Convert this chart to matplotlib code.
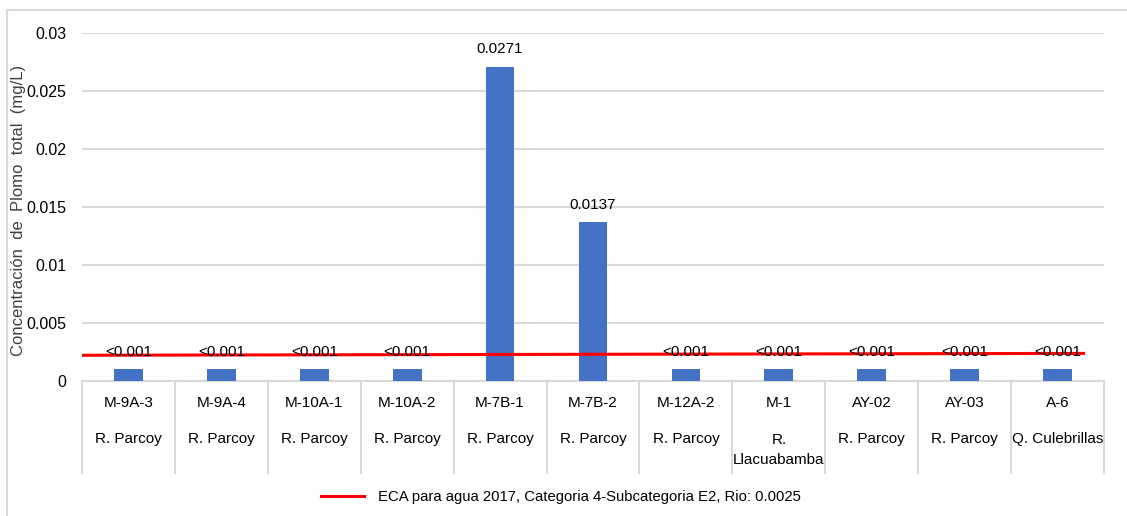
import matplotlib
matplotlib.use("Agg")
from matplotlib import pyplot as plt
from matplotlib.patches import Rectangle
import matplotlib.transforms as mtransforms

# data
stations = ["M-9A-3", "M-9A-4", "M-10A-1", "M-10A-2", "M-7B-1", "M-7B-2",
            "M-12A-2", "M-1", "AY-02", "AY-03", "A-6"]
rivers = ["R. Parcoy", "R. Parcoy", "R. Parcoy", "R. Parcoy", "R. Parcoy", "R. Parcoy",
          "R. Parcoy", "R.\nLlacuabamba", "R. Parcoy", "R. Parcoy", "Q. Culebrillas"]
lead = [0.001, 0.001, 0.001, 0.001, 0.0271, 0.0137, 0.001, 0.001, 0.001, 0.001, 0.001]
bar_labels = ["<0.001", "<0.001", "<0.001", "<0.001", "0.0271", "0.0137",
              "<0.001", "<0.001", "<0.001", "<0.001", "<0.001"]
eca_line = [0.00222, 0.00238]  # drawn position of the ECA line (left, right end)
eca_label = "ECA para agua 2017, Categoria 4-Subcategoria E2, Rio: 0.0025"
ylabel = "Concentración  de  Plomo  total  (mg/L)"
yticks = [0, 0.005, 0.01, 0.015, 0.02, 0.025, 0.03]

plt.rcParams["font.family"] = ["Liberation Sans", "DejaVu Sans"]
grey = "#D9D9D9"
W, H = 1127, 516

fig = plt.figure(figsize=(W / 100, H / 100), dpi=100)
fig.patches.append(Rectangle((7 / W, -0.1), 1.2, (H - 10) / H + 0.1, transform=fig.transFigure,
                             fill=False, edgecolor=grey, linewidth=1.5))

ax = fig.add_axes([82 / W, (H - 381) / H, (1104 - 82) / W, (381 - 33) / H])
x = list(range(len(stations)))
ax.bar(x, lead, width=0.31, color="#4472C4", zorder=3)
ax.set_xlim(-0.5, len(stations) - 0.5)
ax.set_ylim(0, 0.03)
ax.set_yticks(yticks)
ax.set_yticklabels([f"{t:g}" for t in yticks], fontsize=11.5)
ax.tick_params(axis="y", length=0, pad=11)
ax.set_xticks([])
ax.yaxis.grid(True, color=grey, linewidth=1.5)
ax.set_axisbelow(True)
for s in ["top", "right", "left"]:
    ax.spines[s].set_visible(False)
ax.spines["bottom"].set_color(grey)
ax.spines["bottom"].set_linewidth(1.5)

line, = ax.plot([-0.5, 10.28], eca_line, color="#FF0000", linewidth=2.2, zorder=4)

for xi, v, lab in zip(x, lead, bar_labels):
    ax.text(xi, v + 0.0009, lab, ha="center", va="bottom", fontsize=11, zorder=5)

ax.set_ylabel(ylabel, fontsize=12, color="#404040")
ax.yaxis.set_label_coords(-56 / 1022, 0.49)

# category table under the axis
trans = mtransforms.blended_transform_factory(ax.transData, ax.transAxes)
table_bottom = -(473 - 381) / 348
for b in range(len(stations) + 1):
    ax.plot([b - 0.5, b - 0.5], [0, table_bottom], transform=trans, color=grey,
            linewidth=1.5, clip_on=False)
for xi, st, rv in zip(x, stations, rivers):
    ax.text(xi, -(403 - 381) / 348, st, transform=trans, ha="center", va="center", fontsize=11)
    ry = 450 if "\n" in rv else 439
    ax.text(xi, -(ry - 381) / 348, rv, transform=trans, ha="center", va="center",
            fontsize=11, linespacing=1.55)

fig.legend([line], [eca_label], loc="center left", bbox_to_anchor=(308 / W, (H - 497) / H),
           frameon=False, fontsize=10.7, handlelength=2.9, handletextpad=0.9)

fig.savefig("out.png", dpi=100)
